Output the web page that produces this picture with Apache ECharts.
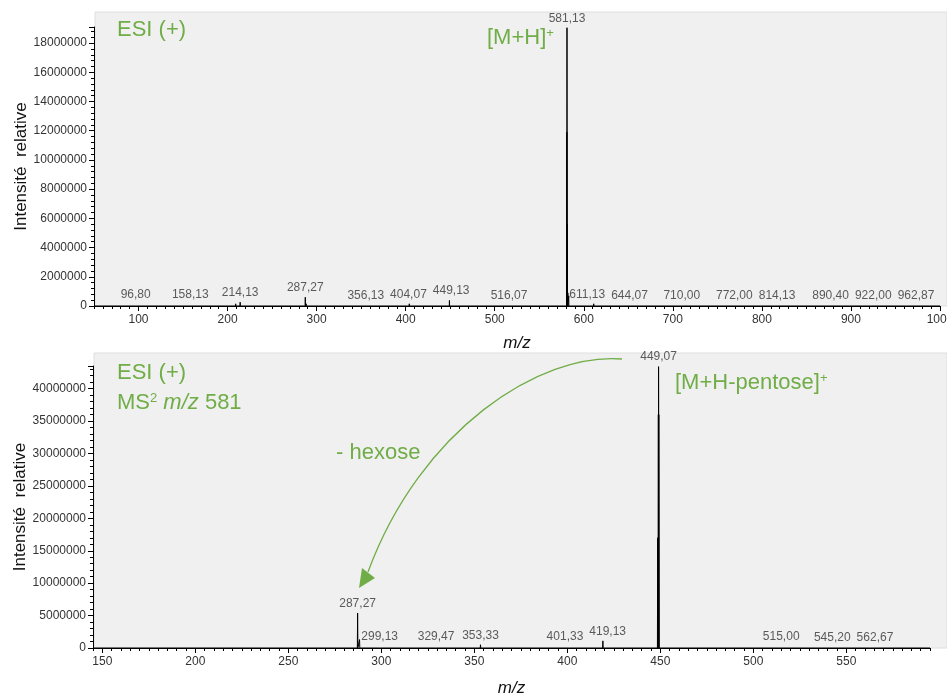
<!DOCTYPE html>
<html>
<head>
  <meta charset="UTF-8">
  <title>Spectres ESI (+)</title>
  <script src="https://cdn.jsdelivr.net/npm/echarts@6/dist/echarts.min.js"></script>
</head>
<body style="margin:0">
  <div id="haut" style="position: absolute; left: 0; top: 0; width: 947px; height: 360px"></div>
  <div id="bas" style="position: absolute; left: 0; top: 347px; width: 947px; height: 348px"></div>
  <script>
    // spectre complet ESI (+) : pics annotés
    const topLabelMz = [96.80, 158.13, 214.13, 287.27, 356.13, 404.07, 449.13, 516.07, 581.13, 611.13, 644.07, 710.00, 772.00, 814.13, 890.40, 922.00, 962.87];
    const topLabelInt = [90000, 110000, 260000, 600000, 50000, 150000, 380000, 40000, 19050000, 150000, 40000, 50000, 40000, 60000, 40000, 30000, 40000];
    // pics non annotés (massif isotopique, bruit)
    const topExtraMz = [205.1, 209.1, 226.1, 288.3, 450.1, 580.95, 581.3, 581.45, 582.1, 583.1];
    const topExtraInt = [100000, 150000, 120000, 150000, 100000, 11900000, 5600000, 2900000, 900000, 700000];
    const topTicks = [100, 200, 300, 400, 500, 600, 700, 800, 900, 1000];

    // MS2 de m/z 581
    const botLabelMz = [287.27, 299.13, 329.47, 353.33, 401.33, 419.13, 449.07, 515.00, 545.20, 562.67];
    const botLabelInt = [5400000, 250000, 300000, 500000, 250000, 1100000, 43400000, 250000, 200000, 60000];
    const botExtraMz = [288.3, 448.6, 448.95, 449.2];
    const botExtraInt = [1300000, 17000000, 36000000, 36000000];
    const botTicks = [150, 200, 250, 300, 350, 400, 450, 500, 550];

    const green = '#70ad47';
    const font = 'Liberation Sans';

    // profil : chaque pic = petit triangle sur la ligne de base
    function profile(mz, ints, xmin, xmax, w) {
      const pk = mz.map((m, i) => [m, ints[i]]).sort((a, b) => a[0] - b[0]);
      const pts = [[xmin, 0]];
      pk.forEach(([m, h]) => { pts.push([m - w, 0], [m, h], [m + w, 0]); });
      pts.push([xmax, 0]);
      return pts;
    }
    const mzText = m => m.toFixed(2).replace('.', ',');
    const labelStyle = { show: true, position: 'top', distance: 3, formatter: p => mzText(p.value[0]),
      fontSize: 12, color: '#333', fontFamily: font };

    // options communes d'un spectre
    function spectrum(o) {
      return {
        animation: false,
        grid: Object.assign({ outerBoundsMode: 'none', containLabel: false }, o.grid),
        xAxis: [{
          type: 'value', min: o.xmin, max: o.xmax, position: 'bottom',
          axisLine: { onZero: false, lineStyle: { color: '#000' } },
          axisTick: { customValues: o.ticks, length: 5, lineStyle: { color: '#000' } },
          axisLabel: { customValues: o.ticks, fontSize: 12, color: '#333', margin: 8, fontFamily: font, formatter: v => String(v) },
          splitLine: { show: false },
          name: 'm/z', nameLocation: 'middle', nameGap: o.nameGapX, nameMoveOverlap: false,
          nameTextStyle: { fontStyle: 'italic', fontSize: 17, color: '#111', fontFamily: font }
        }, {
          // graduations secondaires
          type: 'value', min: o.xmin, max: o.xmax, interval: o.minor, position: 'bottom',
          axisLine: { show: false, onZero: false },
          axisTick: { length: 3, lineStyle: { color: '#000' } },
          axisLabel: { show: false },
          splitLine: { show: false }
        }],
        yAxis: {
          type: 'value', min: 0, max: o.ymax, interval: o.ystep,
          axisLine: { show: true, lineStyle: { color: '#000' } },
          axisTick: { show: true, length: 5, lineStyle: { color: '#000' } },
          minorTick: { show: true, splitNumber: 5, length: 3, lineStyle: { color: '#000' } },
          axisLabel: { fontSize: 12, color: '#333', margin: 7, fontFamily: font,
            formatter: v => (v % o.ystep === 0 ? String(v) : '') },
          splitLine: { show: false },
          name: 'Intensité  relative', nameLocation: 'middle', nameGap: 64, nameMoveOverlap: false,
          nameTextStyle: { fontSize: 17, color: '#111', fontFamily: font }
        },
        series: [
          { type: 'line', showSymbol: false, lineStyle: { color: '#000', width: 1 },
            data: profile(o.mz.concat(o.extraMz), o.ints.concat(o.extraInt), o.xmin, o.xmax, 0.15) },
          { type: 'scatter', symbolSize: 1, itemStyle: { color: 'transparent' },
            label: labelStyle, data: o.mz.map((m, i) => [m, o.ints[i]]) }
        ],
        graphic: o.graphic
      };
    }

    // écarte horizontalement les étiquettes basses qui se chevauchent
    function spreadLabels(chart, mz, ints, ymax) {
      const ctx = document.createElement('canvas').getContext('2d');
      ctx.font = '12px "' + font + '"';
      const items = mz.map((m, i) => ({ i: i, x: chart.convertToPixel({ seriesIndex: 1 }, [m, ints[i]])[0],
        w: ctx.measureText(mzText(m)).width + 6, low: ints[i] < ymax * 0.05 }))
        .filter(it => it.low).sort((a, b) => a.x - b.x);
      const place = c => {
        let off = 0, sum = 0;
        c.its.forEach(it => { sum += it.x - (off + it.w / 2); off += it.w; });
        c.left = sum / c.its.length; c.right = c.left + off;
      };
      const cl = items.map(it => ({ its: [it] }));
      cl.forEach(place);
      let merged = true;
      while (merged) {
        merged = false;
        for (let k = 1; k < cl.length; k++) {
          if (cl[k - 1].right > cl[k].left) {
            cl[k - 1].its = cl[k - 1].its.concat(cl[k].its);
            place(cl[k - 1]);
            cl.splice(k, 1);
            merged = true;
            break;
          }
        }
      }
      const dx = mz.map(() => 0);
      cl.forEach(c => {
        let off = c.left;
        c.its.forEach(it => { dx[it.i] = off + it.w / 2 - it.x; off += it.w; });
      });
      chart.setOption({ series: [{}, {
        data: mz.map((m, i) => ({ value: [m, ints[i]], label: { offset: [dx[i], 0] } }))
      }] });
    }

    const sup = { fontSize: 13, fill: green, verticalAlign: 'top' };
    const big = { fontSize: 22, fill: green };

    const chartTop = echarts.init(document.getElementById('haut'));
    chartTop.setOption(spectrum({
      grid: { left: 94, top: 27, width: 846, height: 279 },
      xmin: 50, xmax: 1000, minor: 10, ticks: topTicks, nameGapX: 29,
      ymax: 19100000, ystep: 2000000,
      mz: topLabelMz, ints: topLabelInt, extraMz: topExtraMz, extraInt: topExtraInt,
      graphic: [
        { type: 'rect', z: -100, silent: true, shape: { x: 95, y: 12, width: 852, height: 294 }, style: { fill: '#f0f0f0', stroke: '#dedede' } },
        { type: 'text', left: 117, top: 19, style: { text: 'ESI (+)', fontSize: 22, fontFamily: font, fill: green } },
        { type: 'text', left: 487, top: 27, style: { text: '{a|[M+H]}{s|+}', fontFamily: font, fill: green, rich: { a: big, s: sup } } }
      ]
    }));
    spreadLabels(chartTop, topLabelMz, topLabelInt, 19100000);

    const chartBot = echarts.init(document.getElementById('bas'));
    chartBot.setOption(spectrum({
      grid: { left: 93, top: 19, width: 837, height: 282 },
      xmin: 145, xmax: 595, minor: 5, ticks: botTicks, nameGapX: 32,
      ymax: 43500000, ystep: 5000000,
      mz: botLabelMz, ints: botLabelInt, extraMz: botExtraMz, extraInt: botExtraInt,
      graphic: [
        { type: 'rect', z: -100, silent: true, shape: { x: 94, y: 6, width: 853, height: 295 }, style: { fill: '#f0f0f0', stroke: '#dedede' } },
        { type: 'text', left: 117, top: 15, style: { text: 'ESI (+)', fontSize: 22, fontFamily: font, fill: green } },
        { type: 'text', left: 117, top: 45, style: { text: '{a|MS}{s|2}{a| }{i|m/z}{a| 581}', fontFamily: font, fill: green,
          rich: { a: big, i: { fontSize: 22, fontStyle: 'italic', fill: green }, s: sup } } },
        { type: 'text', left: 336, top: 95, style: { text: '- hexose', fontSize: 22, fontFamily: font, fill: green } },
        { type: 'text', left: 675, top: 25, style: { text: '{a|[M+H-pentose]}{s|+}', fontFamily: font, fill: green, rich: { a: big, s: sup } } },
        // flèche courbe 449 -> 287
        { type: 'bezierCurve', silent: true, shape: { x1: 622, y1: 12, cpx1: 540, cpy1: 5, cpx2: 420, cpy2: 83, x2: 368, y2: 225 },
          style: { stroke: green, lineWidth: 1.3, fill: null } },
        { type: 'polygon', silent: true, shape: { points: [[362, 221], [375, 231], [359, 241]] }, style: { fill: green } }
      ]
    }));
    spreadLabels(chartBot, botLabelMz, botLabelInt, 43500000);
  </script>
</body>
</html>
